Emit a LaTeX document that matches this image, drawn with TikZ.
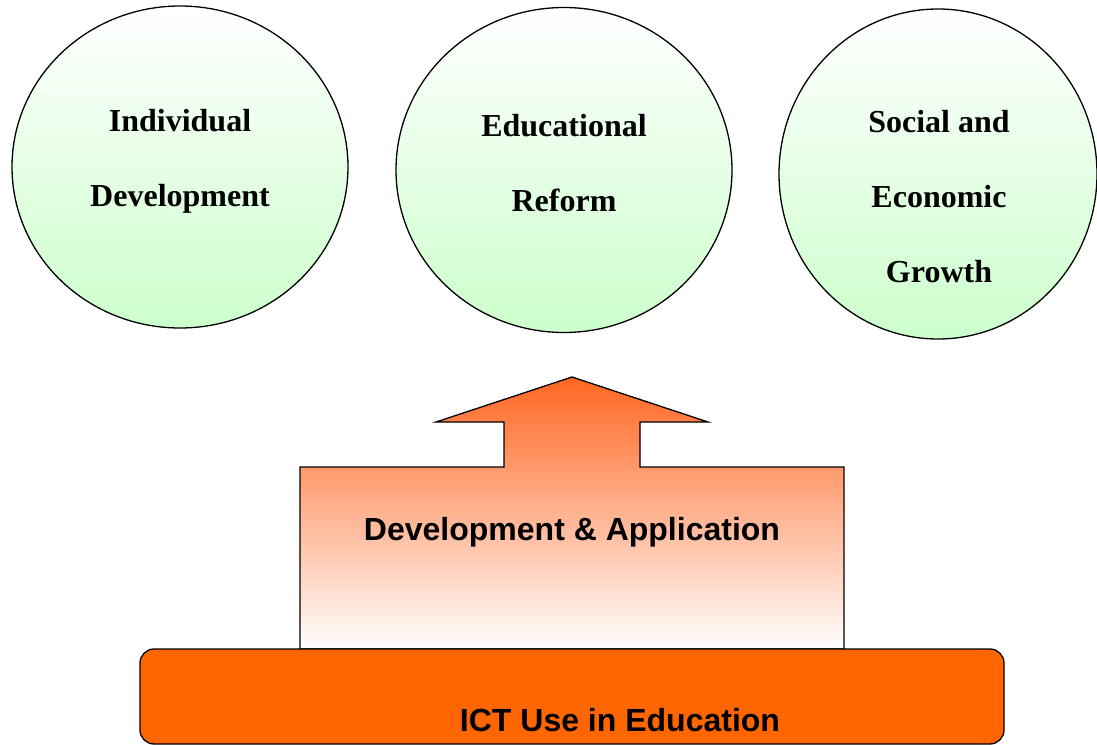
\documentclass[tikz,border=0pt]{standalone}
\usepackage{fontspec}
\setmainfont{Liberation Serif}
\setsansfont{Liberation Sans}
\usetikzlibrary{shapes.geometric}
\definecolor{ictorange}{RGB}{255,102,0}
\definecolor{arrowtop}{RGB}{255,102,34}
\definecolor{circgreen}{RGB}{204,255,204}
\begin{document}
\begin{tikzpicture}[x=1pt,y=-1pt,
  goal/.style={ellipse, draw=black, line width=1.3pt, top color=white, bottom color=circgreen, inner sep=0pt},
  goaltext/.style={font=\bfseries\fontsize{32}{75}\selectfont, align=center, inner sep=0pt},
  arrowshape/.style={draw=black, line width=1.3pt, top color=arrowtop, bottom color=white},
  basebox/.style={draw=black, line width=1.3pt, fill=ictorange, rounded corners=14pt, inner sep=0pt},
  sanstext/.style={font=\sffamily\bfseries\fontsize{32}{38}\selectfont, inner sep=0pt}]
\useasboundingbox (0,0) rectangle (1097,744);
% goal circles
\node[goal, minimum width=336pt, minimum height=322pt] (ind) at (180,167) {};
\node[goal, minimum width=336pt, minimum height=325pt] (edu) at (564,170) {};
\node[goal, minimum width=318pt, minimum height=330pt] (soc) at (938,174) {};
\node[goaltext] (indt) at (180,161) {Individual\\Development};
\node[goaltext] (edut) at (564,163) {Educational\\Reform};
\node[goaltext] (soct) at (939,197) {Social and\\Economic\\Growth};
% arrow / development box
\path[arrowshape] (572,377) -- (708,422) -- (640,422) -- (640,467) -- (844,467) -- (844,649)
  -- (300,649) -- (300,467) -- (504,467) -- (504,422) -- (436,422) -- cycle;
\node[sanstext, anchor=base] (dev) at (572,540) {Development \& Application};
% base box
\node[basebox, minimum width=864pt, minimum height=95pt] (ict) at (572,696.5) {};
\node[sanstext, anchor=base] (ictt) at (620,731) {ICT Use in Education};
\end{tikzpicture}
\end{document}
